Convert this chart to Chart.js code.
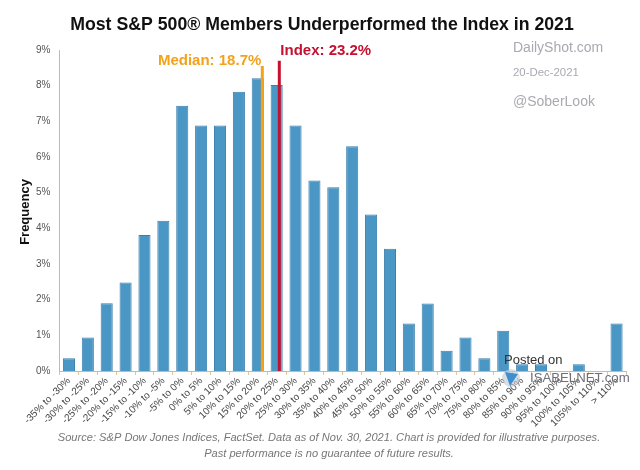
<!DOCTYPE html>
<html>
<head>
<meta charset="utf-8">
<script src="https://cdn.jsdelivr.net/npm/chart.js@4.4.1/dist/chart.umd.min.js"></script>
<style>
  html, body { margin: 0; padding: 0; background: #fff; }
  #wrap { position: relative; width: 640px; height: 470px; }
</style>
</head>
<body>
<div id="wrap"><canvas id="grafico" width="640" height="470"></canvas></div>
<script>
// return buckets (5% wide) and share of S&P 500 members in each
const categorias = [
    "-35% to -30%", "-30% to -25%", "-25% to -20%", "-20% to -15%", "-15% to -10%",
    "-10% to -5%", "-5% to 0%", "0% to 5%", "5% to 10%", "10% to 15%",
    "15% to 20%", "20% to 25%", "25% to 30%", "30% to 35%", "35% to 40%",
    "40% to 45%", "45% to 50%", "50% to 55%", "55% to 60%", "60% to 65%",
    "65% to 70%", "70% to 75%", "75% to 80%", "80% to 85%", "85% to 90%",
    "90% to 95%", "95% to 100%", "100% to 105%", "105% to 110%", "> 110%"
];
const frecuencia = [
    0.36, 0.94, 1.90, 2.48, 3.81, 4.21, 7.44, 6.88, 6.88, 7.83,
    8.21, 8.02, 6.88, 5.34, 5.15, 6.30, 4.39, 3.43, 1.33, 1.89,
    0.57, 0.94, 0.36, 1.13, 0.19, 0.19, 0, 0.19, 0, 1.33
];
const ticksY = [0, 1, 2, 3, 4, 5, 6, 7, 8, 9];

// return range covered by the buckets, and the two marker lines
const rangoRetorno = [-35, 115];
const mediana = 18.7;
const indice = 23.2;
const alturaMediana = 8.55;
const alturaIndice = 8.7;

const azul = "#4a97c5";
const naranja = "#f2a21b";
const rojo = "#c5102f";

const textos = {
    id: "textos",
    afterDraw(chart) {
        const ctx = chart.ctx;
        const x2 = chart.scales.x2;
        ctx.save();

        // titulo
        ctx.fillStyle = "#111";
        ctx.font = "bold 17.7px 'Liberation Sans', Arial, sans-serif";
        ctx.textAlign = "center";
        ctx.textBaseline = "middle";
        ctx.fillText("Most S&P 500\u00AE Members Underperformed the Index in 2021", 322, 25);

        // etiquetas de mediana e indice
        ctx.font = "bold 15px 'Liberation Sans', Arial, sans-serif";
        ctx.fillStyle = naranja;
        ctx.textAlign = "right";
        ctx.fillText("Median: " + mediana + "%", x2.getPixelForValue(mediana) - 1, 61);
        ctx.fillStyle = rojo;
        ctx.textAlign = "left";
        ctx.fillText("Index: " + indice + "%", x2.getPixelForValue(indice) + 1, 51);

        // eje y
        ctx.save();
        ctx.translate(25, 212);
        ctx.rotate(-Math.PI / 2);
        ctx.fillStyle = "#111";
        ctx.textAlign = "center";
        ctx.font = "bold 13px 'Liberation Sans', Arial, sans-serif";
        ctx.fillText("Frequency", 0, 0);
        ctx.restore();

        // marcas de agua
        ctx.textAlign = "left";
        ctx.fillStyle = "#a9a9b1";
        ctx.font = "14px 'Liberation Sans', Arial, sans-serif";
        ctx.fillText("DailyShot.com", 513, 48);
        ctx.font = "11.4px 'Liberation Sans', Arial, sans-serif";
        ctx.fillText("20-Dec-2021", 513, 73);
        ctx.font = "14px 'Liberation Sans', Arial, sans-serif";
        ctx.fillText("@SoberLook", 513, 102);

        ctx.fillStyle = "#333";
        ctx.font = "13px 'Liberation Sans', Arial, sans-serif";
        ctx.fillText("Posted on", 504, 360);
        ctx.fillStyle = "#6f6f78";
        ctx.font = "13.2px 'Liberation Sans', Arial, sans-serif";
        ctx.fillText("ISABELNET.com", 530, 378);
        ctx.beginPath();
        ctx.arc(511, 378, 9, 0, Math.PI * 2);
        ctx.fillStyle = "rgba(190,200,210,0.6)";
        ctx.fill();
        ctx.beginPath();
        ctx.moveTo(505, 372);
        ctx.lineTo(518, 374);
        ctx.lineTo(510, 386);
        ctx.closePath();
        ctx.fillStyle = "#3d8fd0";
        ctx.fill();

        // fuente
        ctx.fillStyle = "#777";
        ctx.textAlign = "center";
        ctx.font = "italic 11.1px 'Liberation Sans', Arial, sans-serif";
        ctx.fillText("Source: S&P Dow Jones Indices, FactSet. Data as of Nov. 30, 2021. Chart is provided for illustrative purposes.", 329, 438);
        ctx.fillText("Past performance is no guarantee of future results.", 329, 454);

        ctx.restore();
    }
};

new Chart(document.getElementById("grafico").getContext("2d"), {
    type: "bar",
    data: {
        labels: categorias,
        datasets: [
            {
                data: frecuencia,
                backgroundColor: azul,
                borderColor: "#3a7fae",
                borderWidth: 1,
                barPercentage: 0.64,
                categoryPercentage: 1,
                grouped: false,
                xAxisID: "x",
                order: 2
            },
            {
                type: "line",
                data: [{ x: mediana, y: 0 }, { x: mediana, y: alturaMediana }],
                borderColor: naranja,
                borderWidth: 3,
                pointRadius: 0,
                xAxisID: "x2",
                order: 1
            },
            {
                type: "line",
                data: [{ x: indice, y: 0 }, { x: indice, y: alturaIndice }],
                borderColor: rojo,
                borderWidth: 3,
                pointRadius: 0,
                xAxisID: "x2",
                order: 0
            }
        ]
    },
    options: {
        responsive: false,
        animation: false,
        devicePixelRatio: 1,
        layout: { padding: { top: 50, left: 0, right: 14, bottom: 0 } },
        plugins: {
            legend: { display: false },
            tooltip: { enabled: false }
        },
        scales: {
            x: {
                offset: true,
                grid: { display: true, drawOnChartArea: false, drawTicks: true, tickLength: 4, color: "#d8c8a8" },
                border: { color: "#bbb" },
                ticks: {
                    autoSkip: false,
                    maxRotation: 45,
                    minRotation: 45,
                    color: "#444",
                    padding: 0,
                    font: { size: 10, family: "'Liberation Sans', Arial, sans-serif" }
                },
                afterFit(scale) { scale.height = 99; }
            },
            x2: {
                type: "linear",
                position: "bottom",
                bounds: "data",
                offset: false,
                min: rangoRetorno[0],
                max: rangoRetorno[1],
                grid: { display: false },
                border: { display: false },
                ticks: { display: false },
                afterFit(scale) { scale.height = 0; }
            },
            y: {
                min: 0,
                max: 9,
                afterBuildTicks(scale) { scale.ticks = ticksY.map(v => ({ value: v })); },
                grid: { display: false },
                border: { color: "#bbb" },
                ticks: {
                    color: "#555",
                    padding: 1,
                    font: { size: 10, family: "'Liberation Sans', Arial, sans-serif" },
                    callback: v => v + "%"
                },
                afterFit(scale) { scale.width = 59.5; }
            }
        }
    },
    plugins: [textos]
});
</script>
</body>
</html>
